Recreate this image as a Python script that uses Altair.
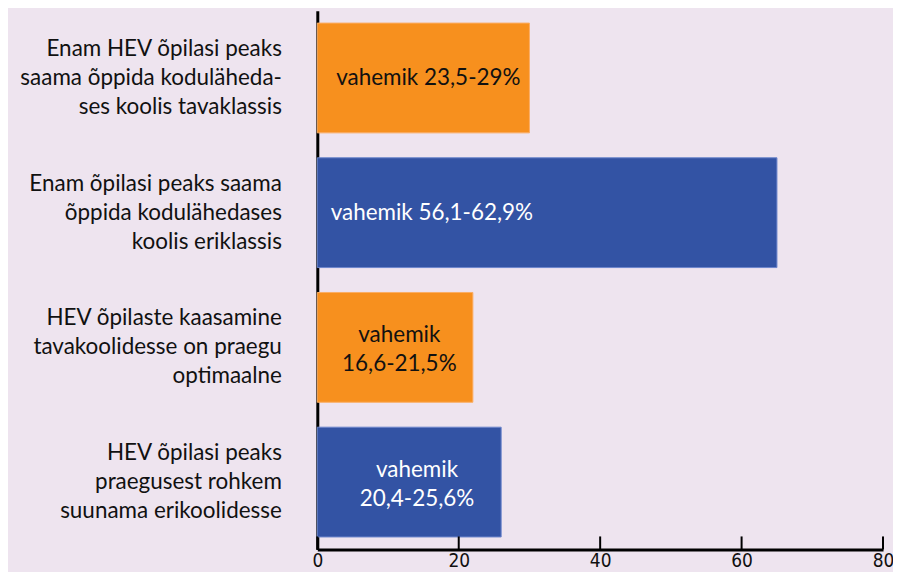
import altair as alt
import pandas as pd

categories = [
    "Enam HEV õpilasi peaks|saama õppida koduläheda-|ses koolis tavaklassis",
    "Enam õpilasi peaks saama|õppida kodulähedases|koolis eriklassis",
    "HEV õpilaste kaasamine|tavakoolidesse on praegu|optimaalne",
    "HEV õpilasi peaks|praegusest rohkem|suunama erikoolidesse",
]
values = [30, 65, 22, 26]
bar_labels = ["vahemik 23,5-29%", "vahemik 56,1-62,9%", "vahemik|16,6-21,5%", "vahemik|20,4-25,6%"]
groups = ["orange", "blue", "orange", "blue"]
tick_values = [0, 20, 40, 60, 80]

# label anchor (layout only)
label_anchor = [15.7, 16.2, 11.6, 14.1]

df = pd.DataFrame({
    "cat": categories,
    "value": values,
    "label": bar_labels,
    "group": groups,
    "lx": label_anchor,
})
ticks_df = pd.DataFrame({"t": tick_values})

W, H = 567, 540
BG = "#eee4ef"
LH = 29

xscale = alt.Scale(domain=[0, 80], nice=False, zero=True)
yscale = alt.Scale(paddingInner=0.185, paddingOuter=0.0925)
color_scale = alt.Scale(domain=["orange", "blue"], range=["#f7901e", "#3353a4"])

ysort = categories

bars = alt.Chart(df).mark_bar(strokeWidth=1).encode(
    x=alt.X("value:Q", scale=xscale,
            axis=alt.Axis(values=tick_values, ticks=False, grid=False, title=None,
                          domainColor="#000000", domainWidth=3,
                          labelFont="Liberation Sans Narrow, DejaVu Sans Condensed, Lato",
                          labelFontSize=19, labelColor="#111111",
                          labelPadding=2, labelFlush=False)),
    y=alt.Y("cat:N", sort=ysort, scale=yscale,
            axis=alt.Axis(title=None, ticks=False, grid=False,
                          domainColor="#000000", domainWidth=3,
                          labelExpr="split(datum.label, '|')",
                          labelFont="Lato", labelFontSize=22.5, labelColor="#111111",
                          labelLineHeight=LH, labelPadding=36, labelLimit=400,
                          labelOffset=-LH, labelBound=False,
                          labelAlign="right", labelBaseline="middle")),
    color=alt.Color("group:N", scale=color_scale, legend=None),
    stroke=alt.condition("datum.group == 'blue'", alt.value("#6b86cc"), alt.value("#fbae63")),
)

def text_layer(expr, dy):
    return alt.Chart(df).transform_filter(expr).mark_text(
        font="Lato", fontSize=22.5, lineBreak="|", lineHeight=LH,
        align="center", baseline="middle", dy=dy).encode(
        x=alt.X("lx:Q", scale=xscale),
        y=alt.Y("cat:N", sort=ysort, scale=yscale),
        text=alt.Text("label:N"),
        color=alt.condition("datum.group == 'blue'", alt.value("#ffffff"), alt.value("#111111")),
    )

texts_one = text_layer("indexof(datum.label, '|') < 0", 0)
texts_two = text_layer("indexof(datum.label, '|') >= 0", -LH / 2 + 2)

tick_rules = alt.Chart(ticks_df).mark_rule(color="#000000", strokeWidth=2).encode(
    x=alt.X("t:Q", scale=xscale),
    y=alt.value(H - 13),
    y2=alt.value(H),
)

chart = alt.layer(bars, texts_one, texts_two, tick_rules).properties(
    width=W, height=H,
    background=BG,
    padding={"left": 310, "top": 2, "right": 10, "bottom": 22},
    autosize=alt.AutoSizeParams(type="none"),
).configure_view(stroke=None)

chart.save("out.html", embed_options={"renderer": "svg", "actions": False})
